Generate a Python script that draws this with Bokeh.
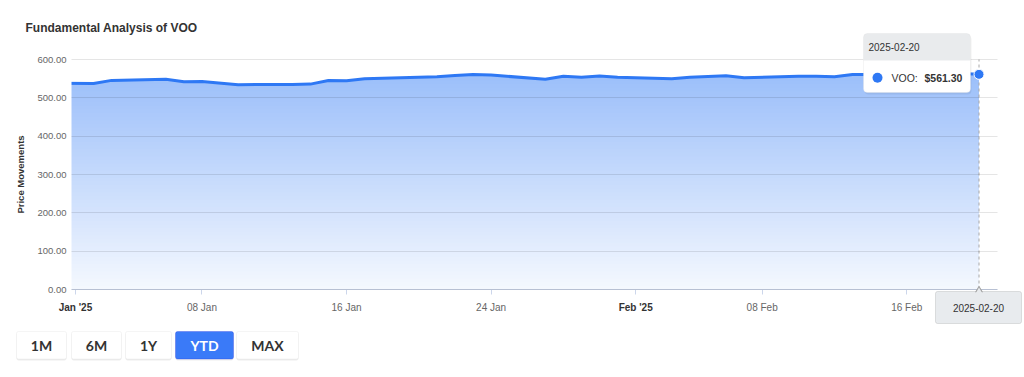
import numpy as np
import pandas as pd
from bokeh.plotting import figure
from bokeh.models import (Range1d, FixedTicker, NumeralTickFormatter, Label,
                          BoxAnnotation, LinearAxis, Grid)
from bokeh.embed import file_html
from bokeh.resources import INLINE

# ---------------- data ----------------
dates = ["2024-12-31", "2025-01-02", "2025-01-03", "2025-01-06", "2025-01-07",
         "2025-01-08", "2025-01-10", "2025-01-13", "2025-01-14", "2025-01-15",
         "2025-01-16", "2025-01-17", "2025-01-21", "2025-01-22", "2025-01-23",
         "2025-01-24", "2025-01-27", "2025-01-28", "2025-01-29", "2025-01-30",
         "2025-01-31", "2025-02-03", "2025-02-04", "2025-02-05", "2025-02-06",
         "2025-02-07", "2025-02-10", "2025-02-11", "2025-02-12", "2025-02-13",
         "2025-02-14", "2025-02-18", "2025-02-19", "2025-02-20"]
prices = [538.3, 537.6, 545.5, 548.4, 541.8,
          542.6, 534.4, 535.1, 535.8, 545.4,
          544.5, 549.9, 554.8, 558.1, 561.0,
          559.4, 548.4, 556.3, 553.8, 556.7,
          554.0, 549.8, 553.7, 555.8, 557.8,
          552.6, 556.2, 556.4, 554.9, 560.7,
          560.7, 562.1, 563.5, 561.30]
ticker_name = "VOO"

tick_dates = ["2025-01-01", "2025-01-08", "2025-01-16", "2025-01-24",
              "2025-02-01", "2025-02-08", "2025-02-16"]
tick_labels = ["Jan '25", "08 Jan", "16 Jan", "24 Jan", "Feb '25", "08 Feb", "16 Feb"]
tick_bold = [True, False, False, False, True, False, False]
y_ticks = [0, 100, 200, 300, 400, 500, 600]
range_buttons = ["1M", "6M", "1Y", "YTD", "MAX"]
active_button = "YTD"

# ---------------- geometry (pixel -> data helpers) ----------------
origin = pd.Timestamp("2025-01-01")
days = np.array([(pd.Timestamp(d) - origin).days for d in dates], dtype=float)
vals = np.array(prices, dtype=float)
tick_days = [(pd.Timestamp(d) - origin).days for d in tick_dates]

W, H = 1024, 377
FL, FR, FT, FB = 71, 997, 59, 289      # plot area in pixels
DPP = 50.0 / 903.5                      # days per pixel
YMAX = 600.0


def X(px):
    return -4 * DPP + (px - FL) * DPP


def Y(py):
    return (FB - py) * YMAX / (FB - FT)


BLUE = (46, 120, 244)
BLUE_HEX = "#%02x%02x%02x" % BLUE
FONT = "Liberation Sans"


def tint(alpha):
    return "#%02x%02x%02x" % tuple(int(round(255 - alpha * (255 - c))) for c in BLUE)


p = figure(width=W, height=H, x_range=Range1d(X(0), X(W)), y_range=Range1d(Y(H), Y(0)),
           output_backend="svg", toolbar_location=None,
           x_axis_location=None, y_axis_location=None,
           min_border=0, min_border_left=0, min_border_right=0,
           min_border_top=0, min_border_bottom=0)
p.center = [r for r in p.center if not isinstance(r, Grid)]
p.outline_line_color = None
p.background_fill_color = "white"
p.border_fill_color = "white"
p.title.text = ""

# gradient area: overlapping opaque bands, lighter towards the bottom
N = 60
vmax = vals.max()
for n in range(1, N + 1):
    lo = (n - 1) * vmax / N
    alpha = 0.05 + 0.43 * (n - 0.5) / N
    p.varea(x=days, y1=np.minimum(vals, lo), y2=vals, fill_color=tint(alpha), fill_alpha=1)

p.line(days, vals, line_color=BLUE_HEX, line_width=3, line_join="round")

# keep the series inside the plot area on the left
p.quad(left=X(0), right=X(FL), bottom=Y(FB + 1), top=Y(FT - 5),
       fill_color="white", line_color=None)

# horizontal grid limited to the plot area (drawn translucent over the area)
grid = Grid(dimension=1, ticker=FixedTicker(ticks=y_ticks), grid_line_color="#000000",
            grid_line_alpha=0.1, level="annotation")
if "cross_bounds" in Grid.properties():
    grid.cross_bounds = (X(FL), X(FR))
    p.add_layout(grid)
else:
    p.segment(x0=X(FL), x1=X(FR), y0=y_ticks, y1=y_ticks, line_color="#000000",
              line_alpha=0.1)

# y axis
yax = LinearAxis(fixed_location=X(FL), bounds=(0, YMAX),
                 ticker=FixedTicker(ticks=y_ticks),
                 formatter=NumeralTickFormatter(format="0.00"))
yax.axis_line_color = None
yax.major_tick_line_color = None
yax.minor_tick_line_color = None
yax.major_tick_out = 0
yax.major_tick_in = 0
yax.major_label_text_font = FONT
yax.major_label_text_font_size = "9.5px"
yax.major_label_text_color = "#666666"
yax.major_label_standoff = 5
yax.axis_label = "Price Movements"
yax.axis_label_text_font = FONT
yax.axis_label_text_font_size = "9.5px"
yax.axis_label_text_font_style = "bold"
yax.axis_label_text_color = "#333333"
yax.axis_label_standoff = 8
p.add_layout(yax, "left")

# x axis (normal labels)
xax = LinearAxis(fixed_location=0, bounds=(X(FL), X(FR)), ticker=FixedTicker(ticks=tick_days))
xax.major_label_overrides = {d: ("" if b else lab)
                             for d, lab, b in zip(tick_days, tick_labels, tick_bold)}
xax.axis_line_color = "#ccd6eb"
xax.major_tick_line_color = "#ccd6eb"
xax.minor_tick_line_color = None
xax.major_tick_in = 0
xax.major_tick_out = 5
xax.major_label_standoff = 7
xax.major_label_text_font = FONT
xax.major_label_text_font_size = "10px"
xax.major_label_text_color = "#666666"
p.add_layout(xax, "below")

# x axis (bold month labels)
bold_days = [d for d, b in zip(tick_days, tick_bold) if b]
xbold = LinearAxis(fixed_location=0, bounds=(X(FL), X(FR)), ticker=FixedTicker(ticks=bold_days))
xbold.major_label_overrides = {d: lab for d, lab, b in zip(tick_days, tick_labels, tick_bold) if b}
xbold.axis_line_color = None
xbold.major_tick_line_color = None
xbold.minor_tick_line_color = None
xbold.major_tick_in = 0
xbold.major_tick_out = 5
xbold.major_label_standoff = 7
xbold.major_label_text_font = FONT
xbold.major_label_text_font_size = "10px"
xbold.major_label_text_font_style = "bold"
xbold.major_label_text_color = "#333333"
p.add_layout(xbold, "below")

# title
p.add_layout(Label(x=X(25), y=Y(27), text="Fundamental Analysis of " + ticker_name,
                   text_font=FONT, text_font_size="12px", text_font_style="bold",
                   text_color="#333333", text_align="left", text_baseline="middle"))

# crosshair at the last point
last_x, last_v = days[-1], vals[-1]
p.segment(x0=[last_x], x1=[last_x], y0=[0], y1=[YMAX], line_color="#a8a8a8",
          line_dash="3 3", line_width=1)
p.scatter([last_x], [last_v], size=10, fill_color=BLUE_HEX, line_color="white", line_width=1)

# crosshair date label under the axis
p.add_layout(BoxAnnotation(left=X(935), right=X(1021), top=Y(291), bottom=Y(323),
                           fill_color="#e8ebee", fill_alpha=1, line_color="#a0a0a0",
                           line_width=1, border_radius=2))
p.scatter([last_x], [Y(289.5)], marker="triangle", size=8, fill_color="#a0a0a0",
          line_color=None, level="overlay")
p.scatter([last_x], [Y(290.8)], marker="triangle", size=6.5, fill_color="#e8ebee",
          line_color=None, level="overlay")
p.add_layout(Label(x=X(978), y=Y(307.5), text=dates[-1], text_font=FONT,
                   text_font_size="10px", text_color="#333333",
                   text_align="center", text_baseline="middle"))

# tooltip
p.add_layout(BoxAnnotation(left=X(864), right=X(971), top=Y(35), bottom=Y(94),
                           fill_color="#000000", fill_alpha=0.06, line_color=None,
                           border_radius=4))
p.add_layout(BoxAnnotation(left=X(863), right=X(970), top=Y(33), bottom=Y(92),
                           fill_color="white", fill_alpha=1, line_color=None,
                           border_radius=4))
p.add_layout(BoxAnnotation(left=X(863), right=X(970), top=Y(33), bottom=Y(60),
                           fill_color="#e9ebed", fill_alpha=1, line_color=None,
                           border_radius=(4, 4, 0, 0)))
p.add_layout(BoxAnnotation(left=X(863), right=X(970), top=Y(33), bottom=Y(92),
                           fill_color=None, fill_alpha=0, line_color="#dddddd",
                           line_width=1, border_radius=4))
p.add_layout(Label(x=X(868), y=Y(46.5), text=dates[-1], text_font=FONT,
                   text_font_size="10px", text_color="#333333",
                   text_align="left", text_baseline="middle"))
p.scatter([X(877)], [Y(77.3)], size=10, fill_color=BLUE_HEX, line_color=None,
          level="overlay")
p.add_layout(Label(x=X(891), y=Y(77), text=ticker_name + ":", text_font=FONT,
                   text_font_size="10.5px", text_color="#333333",
                   text_align="left", text_baseline="middle"))
p.add_layout(Label(x=X(924), y=Y(77), text="$%.2f" % last_v, text_font=FONT,
                   text_font_size="10.5px", text_font_style="bold", text_color="#333333",
                   text_align="left", text_baseline="middle"))

# range selector buttons
btn_px = [(16, 66), (71, 121), (125, 171), (175, 233), (236, 298)]
for lab, (l, r) in zip(range_buttons, btn_px):
    act = lab == active_button
    p.add_layout(BoxAnnotation(left=X(l), right=X(r), top=Y(332), bottom=Y(360),
                               fill_color="#000000", fill_alpha=0.07, line_color=None,
                               border_radius=2))
    p.add_layout(BoxAnnotation(left=X(l), right=X(r), top=Y(331), bottom=Y(358.5),
                               fill_color="#3a7af8" if act else "white", fill_alpha=1,
                               line_color="#2433dd" if act else "#dedede", line_width=1,
                               border_radius=2))
    p.add_layout(Label(x=X((l + r) / 2), y=Y(345), text=lab, text_font="Lato",
                       text_font_size="14px", text_font_style="bold",
                       text_color="white" if act else "#333333",
                       text_align="center", text_baseline="middle"))

open("out.html", "w").write(file_html(p, INLINE))
